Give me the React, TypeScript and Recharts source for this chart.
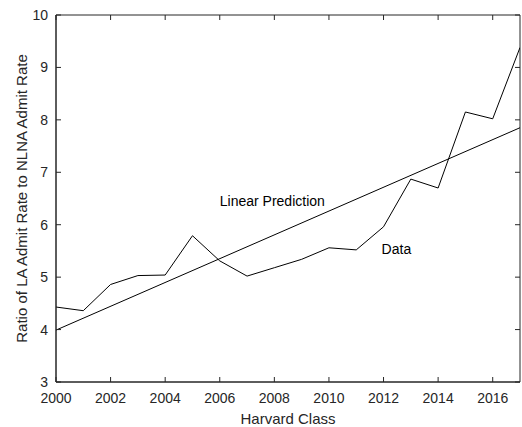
import { LineChart, Line, XAxis, YAxis, ReferenceDot, ReferenceArea } from 'recharts';

// admit-rate ratio by graduating class
const classYears = [2000, 2001, 2002, 2003, 2004, 2005, 2006, 2007, 2008, 2009, 2010, 2011, 2012, 2013, 2014, 2015, 2016, 2017];
const ratioValues = [4.43, 4.36, 4.86, 5.03, 5.04, 5.79, 5.31, 5.02, 5.18, 5.34, 5.56, 5.52, 5.96, 6.87, 6.70, 8.15, 8.02, 9.38];

// fitted trend, endpoints only
const fitYears = [2000, 2017];
const fitValues = [3.99, 7.85];

const xTicks = [2000, 2002, 2004, 2006, 2008, 2010, 2012, 2014, 2016];
const yTicks = [3, 4, 5, 6, 7, 8, 9, 10];
const xDomain = [2000, 2017];
const yDomain = [3, 10];

const notes = [
  { x: 2006.0, y: 6.46, text: 'Linear Prediction' },
  { x: 2011.93, y: 5.54, text: 'Data' },
];

const dataRows = classYears.map((year, i) => ({ year, ratio: ratioValues[i] }));
const fitRows = fitYears.map((year, i) => ({ year, ratio: fitValues[i] }));

const W = 522;
const H = 427;
const PLOT_TOP = 15;
const PLOT_LEFT = 56;
const PLOT_RIGHT = 520;
const PLOT_BOTTOM = 382;
const TICK = 5;

const FONT = '"Liberation Sans", Arial, sans-serif';
const AXIS = '#262626';
const TEXT = '#262626';

// bottom tick: year label with inward marks on the bottom and top edges
const xTick = (props: any) => {
  const { x, y, payload } = props;
  return (
    <g>
      <path d={`M${x},${PLOT_BOTTOM}V${PLOT_BOTTOM - TICK}M${x},${PLOT_TOP}V${PLOT_TOP + TICK}`} stroke={AXIS} strokeWidth={1} fill="none" />
      <text x={x} y={y} dy="0.71em" textAnchor="middle" fontSize={14} fontFamily={FONT} fill={TEXT}>
        {payload.value}
      </text>
    </g>
  );
};

// left tick: value label with inward marks on the left and right edges
const yTick = (props: any) => {
  const { x, y, payload } = props;
  return (
    <g>
      <path d={`M${PLOT_LEFT},${y}H${PLOT_LEFT + TICK}M${PLOT_RIGHT - TICK},${y}H${PLOT_RIGHT}`} stroke={AXIS} strokeWidth={1} fill="none" />
      <text x={x} y={y} dy="0.355em" textAnchor="end" fontSize={14} fontFamily={FONT} fill={TEXT}>
        {payload.value}
      </text>
    </g>
  );
};

const xLabel = (props: any) => {
  const { viewBox } = props;
  const cx = viewBox.x + viewBox.width / 2;
  const cy = viewBox.y + 36;
  return (
    <text x={cx} y={cy} textAnchor="middle" dominantBaseline="central" fontSize={15} fontFamily={FONT} fill={TEXT}>
      Harvard Class
    </text>
  );
};

const yLabel = (props: any) => {
  const { viewBox } = props;
  const cx = viewBox.x + 21;
  const cy = viewBox.y + viewBox.height / 2;
  return (
    <text x={cx} y={cy} transform={`rotate(-90, ${cx}, ${cy})`} textAnchor="middle" dominantBaseline="central" fontSize={15} fontFamily={FONT} fill={TEXT}>
      Ratio of LA Admit Rate to NLNA Admit Rate
    </text>
  );
};

const noteLabel = (text: string) => (props: any) => {
  const { viewBox } = props;
  return (
    <text x={viewBox.x} y={viewBox.y} dominantBaseline="central" fontSize={14} fontFamily={FONT} fill="#000">
      {text}
    </text>
  );
};

export default function App() {
  return (
    <div style={{ position: 'fixed', left: 0, top: 0, width: W, height: H, overflow: 'hidden', background: '#fff' }}>
      <LineChart width={W} height={H} margin={{ top: PLOT_TOP, right: W - PLOT_RIGHT, bottom: 0, left: 0 }}>
        <XAxis
          type="number"
          dataKey="year"
          domain={xDomain}
          ticks={xTicks}
          allowDataOverflow
          height={H - PLOT_BOTTOM}
          tickLine={false}
          tickSize={0}
          tickMargin={11}
          stroke={AXIS}
          tick={xTick}
          label={{ content: xLabel }}
        />
        <YAxis
          type="number"
          domain={yDomain}
          ticks={yTicks}
          allowDataOverflow
          width={PLOT_LEFT}
          tickLine={false}
          tickSize={0}
          tickMargin={8}
          stroke={AXIS}
          tick={yTick}
          label={{ content: yLabel }}
        />
        {/* box around the plot area */}
        <ReferenceArea x1={xDomain[0]} x2={xDomain[1]} y1={yDomain[0]} y2={yDomain[1]} fill="none" fillOpacity={0} stroke={AXIS} strokeWidth={1} strokeOpacity={1} ifOverflow="visible" />
        <Line data={fitRows} dataKey="ratio" stroke="#000" strokeWidth={1} dot={false} isAnimationActive={false} />
        <Line data={dataRows} dataKey="ratio" stroke="#000" strokeWidth={1} dot={false} isAnimationActive={false} />
        {notes.map((n) => (
          <ReferenceDot key={n.text} x={n.x} y={n.y} r={0} fill="none" stroke="none" label={{ content: noteLabel(n.text) }} />
        ))}
      </LineChart>
    </div>
  );
}
